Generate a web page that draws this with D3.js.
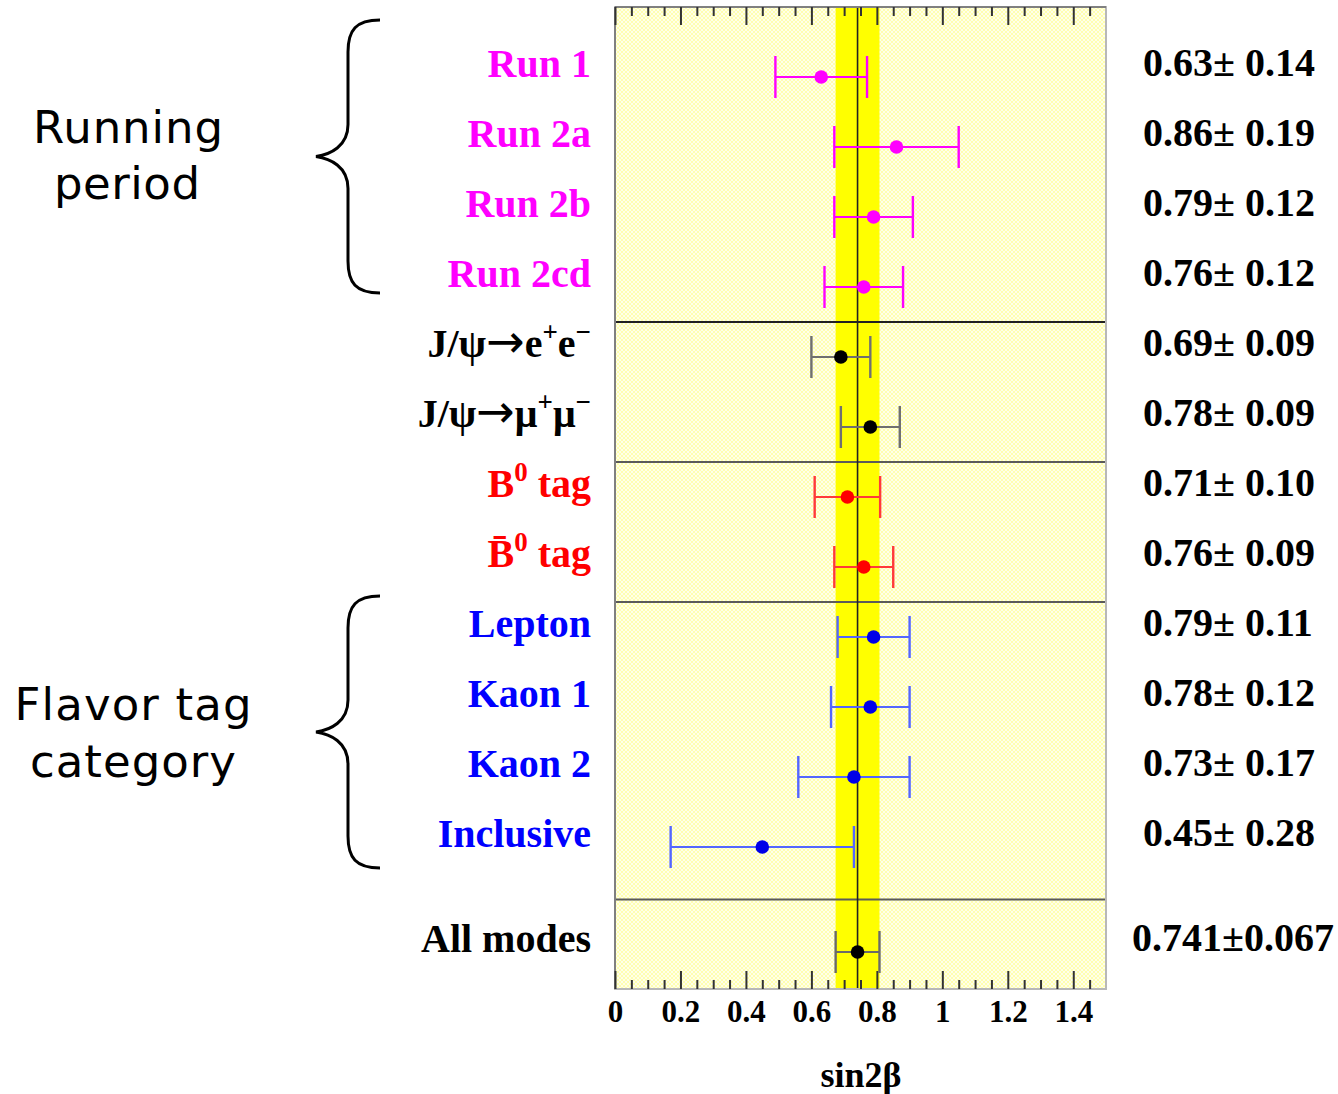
<!DOCTYPE html>
<html>
<head>
<meta charset="utf-8">
<script src="https://cdn.jsdelivr.net/npm/d3@7"></script>
<style>
  body { margin: 0; background: #fff; }
  svg { display: block; }
</style>
</head>
<body>
<div id="chart"></div>
<script>
// sin2beta measurements by sub-sample
var rowLabels = [
    [["Run 1"]],
    [["Run 2a"]],
    [["Run 2b"]],
    [["Run 2cd"]],
    [["J/ψ"], ["→", "arrow"], ["e"], ["+", "sup"], ["e"], ["−", "sup"]],
    [["J/ψ"], ["→", "arrow"], ["μ"], ["+", "sup"], ["μ"], ["−", "sup"]],
    [["B"], ["0", "sup"], [" tag"]],
    [["B\u0304"], ["0", "sup"], [" tag"]],
    [["Lepton"]],
    [["Kaon 1"]],
    [["Kaon 2"]],
    [["Inclusive"]],
    [["All modes"]]
];
var values = [0.63, 0.86, 0.79, 0.76, 0.69, 0.78, 0.71, 0.76, 0.79, 0.78, 0.73, 0.45, 0.741];
var errors = [0.14, 0.19, 0.12, 0.12, 0.09, 0.09, 0.10, 0.09, 0.11, 0.12, 0.17, 0.28, 0.067];
var valueText = ["0.63± 0.14", "0.86± 0.19", "0.79± 0.12", "0.76± 0.12", "0.69± 0.09", "0.78± 0.09",
    "0.71± 0.10", "0.76± 0.09", "0.79± 0.11", "0.78± 0.12", "0.73± 0.17", "0.45± 0.28", "0.741±0.067"];
var groups = ["run", "run", "run", "run", "mode", "mode", "flav", "flav", "tag", "tag", "tag", "tag", "all"];
var rowPos = [0, 1, 2, 3, 4, 5, 6, 7, 8, 9, 10, 11, 12.5];
var separators = [3.5, 5.5, 7.5, 11.75];
var majorTicks = [0, 0.2, 0.4, 0.6, 0.8, 1, 1.2, 1.4];
var average = 0.741, averageErr = 0.067;

var textColor = { run: "#ff00ff", mode: "#000", flav: "#ff0000", tag: "#0000ff", all: "#000" };
var barColor = { run: "#ff00ff", mode: "#707070", flav: "#ff3a3a", tag: "#5466ff", all: "#6a6a6a" };
var dotColor = { run: "#ff00ff", mode: "#000", flav: "#ff0000", tag: "#0000e8", all: "#000" };

var width = 1338, height = 1094;
var serif = "'Liberation Serif', 'Times New Roman', serif";
var sans = "'DejaVu Sans', Verdana, sans-serif";

var svg = d3.select("#chart").append("svg")
    .attr("width", width).attr("height", height);

var x = d3.scaleLinear().domain([0, 1.5]).range([615, 1106]);
var y = d3.scaleLinear().domain([0, 12.5]).range([77, 952]);
var plotTop = 7, plotBottom = 989;

// hatched pale yellow background
var defs = svg.append("defs");
var pat = defs.append("pattern").attr("id", "hatch")
    .attr("width", 4).attr("height", 4).attr("patternUnits", "userSpaceOnUse");
pat.append("rect").attr("width", 4).attr("height", 4).attr("fill", "#ffffb0");
pat.append("path").attr("d", "M0,0 L4,4 M4,0 L0,4")
    .attr("stroke", "#ffffff").attr("stroke-width", 0.9).attr("opacity", 0.8);

svg.append("rect")
    .attr("x", x(0)).attr("y", plotTop)
    .attr("width", x(1.5) - x(0)).attr("height", plotBottom - plotTop)
    .attr("fill", "url(#hatch)");

// average band
svg.append("rect")
    .attr("x", x(average - averageErr)).attr("y", plotTop)
    .attr("width", x(average + averageErr) - x(average - averageErr))
    .attr("height", plotBottom - plotTop)
    .attr("fill", "#ffff00");

// separators
svg.selectAll(".sep")
    .data(separators)
    .enter().append("line")
    .attr("class", "sep")
    .attr("x1", x(0)).attr("x2", x(1.5))
    .attr("y1", function (d) { return y(d); })
    .attr("y2", function (d) { return y(d); })
    .attr("stroke", function (d, i) { return i === 0 ? "#222" : "#5a5a5a"; })
    .attr("stroke-width", 2);

svg.append("line")
    .attr("x1", x(average)).attr("x2", x(average))
    .attr("y1", plotTop).attr("y2", plotBottom)
    .attr("stroke", "#222").attr("stroke-width", 1.6);

// frame
svg.append("rect")
    .attr("x", x(0)).attr("y", plotTop)
    .attr("width", x(1.5) - x(0)).attr("height", plotBottom - plotTop)
    .attr("fill", "none").attr("stroke", "#b8b8b8").attr("stroke-width", 2);
svg.append("line")
    .attr("x1", x(0)).attr("x2", x(0)).attr("y1", plotTop).attr("y2", plotBottom)
    .attr("stroke", "#808080").attr("stroke-width", 2);
svg.append("line")
    .attr("x1", x(0)).attr("x2", x(1.5)).attr("y1", plotTop).attr("y2", plotTop)
    .attr("stroke", "#808080").attr("stroke-width", 2);

// ticks (inward, top and bottom)
var minorTicks = d3.range(0, 1.5, 0.05).filter(function (v) {
    return Math.abs(v / 0.2 - Math.round(v / 0.2)) > 1e-6;
});

function tickAxis(axisFn, y0, vals, len, labels) {
    var g = svg.append("g")
        .attr("transform", "translate(0," + y0 + ")")
        .call(axisFn(x).tickValues(vals).tickSizeInner(-len).tickSizeOuter(0)
            .tickFormat(labels ? d3.format("~g") : ""));
    g.select(".domain").remove();
    g.selectAll(".tick line").attr("stroke", "#333").attr("stroke-width", 2);
    return g;
}
tickAxis(d3.axisBottom, plotBottom, minorTicks, 9, false);
var xAxis = tickAxis(d3.axisBottom, plotBottom, majorTicks, 18, true);
xAxis.selectAll("text")
    .attr("y", 33).attr("dy", null)
    .attr("font-family", serif).attr("font-weight", "bold")
    .attr("font-size", 31).attr("fill", "#000");
tickAxis(d3.axisTop, plotTop, minorTicks, 9, false);
tickAxis(d3.axisTop, plotTop, majorTicks, 18, false);

svg.append("text")
    .attr("x", 861).attr("y", 1087)
    .attr("text-anchor", "middle")
    .attr("font-family", serif).attr("font-weight", "bold").attr("font-size", 36)
    .text("sin2β");

// error bars
var capH = 21;
var pts = svg.append("g").selectAll("g")
    .data(values)
    .enter().append("g");

pts.append("line")
    .attr("x1", function (d, i) { return x(d - errors[i]); })
    .attr("x2", function (d, i) { return x(d + errors[i]); })
    .attr("y1", function (d, i) { return y(rowPos[i]); })
    .attr("y2", function (d, i) { return y(rowPos[i]); })
    .attr("stroke", function (d, i) { return barColor[groups[i]]; })
    .attr("stroke-width", 2);

[-1, 1].forEach(function (s) {
    pts.append("line")
        .attr("x1", function (d, i) { return x(d + s * errors[i]); })
        .attr("x2", function (d, i) { return x(d + s * errors[i]); })
        .attr("y1", function (d, i) { return y(rowPos[i]) - capH; })
        .attr("y2", function (d, i) { return y(rowPos[i]) + capH; })
        .attr("stroke", function (d, i) { return barColor[groups[i]]; })
        .attr("stroke-width", 2.4);
});

pts.append("circle")
    .attr("cx", function (d) { return x(d); })
    .attr("cy", function (d, i) { return y(rowPos[i]); })
    .attr("r", 6.8)
    .attr("fill", function (d, i) { return dotColor[groups[i]]; });

// row labels on the left
var lab = svg.selectAll(".rowlab")
    .data(rowLabels)
    .enter().append("text")
    .attr("class", "rowlab")
    .attr("x", 591)
    .attr("y", function (d, i) { return y(rowPos[i]); })
    .attr("text-anchor", "end")
    .attr("font-family", serif).attr("font-weight", "bold").attr("font-size", 40)
    .attr("fill", function (d, i) { return textColor[groups[i]]; });

lab.each(function (parts) {
    var t = d3.select(this);
    var up = false;
    parts.forEach(function (p) {
        var sp = t.append("tspan").text(p[0]);
        if (p[1] === "sup") {
            sp.attr("dy", up ? 0 : -16).attr("font-size", 27);
            up = true;
        } else {
            if (up) sp.attr("dy", 16);
            up = false;
            if (p[1] === "arrow") {
                sp.attr("font-family", "'DejaVu Sans', sans-serif")
                    .attr("font-weight", "normal").attr("font-size", 46);
            }
        }
    });
});

// values on the right
svg.selectAll(".vallab")
    .data(valueText)
    .enter().append("text")
    .attr("class", "vallab")
    .attr("x", function (d, i) { return i === 12 ? 1132 : 1143; })
    .attr("y", function (d, i) { return y(rowPos[i]) - 1; })
    .attr("font-family", serif).attr("font-weight", "bold").attr("font-size", 40)
    .attr("fill", "#000")
    .text(function (d) { return d; });

// group braces
function brace(t, b) {
    var m = (t + b) / 2, xv = 348, xe = 380, xt = 316;
    return "M" + xe + "," + t +
        " C" + (xv + 8) + "," + t + " " + xv + "," + (t + 10) + " " + xv + "," + (t + 32) +
        " L" + xv + "," + (m - 32) +
        " C" + xv + "," + (m - 10) + " " + (xt + 14) + "," + (m - 2) + " " + xt + "," + m +
        " C" + (xt + 14) + "," + (m + 2) + " " + xv + "," + (m + 10) + " " + xv + "," + (m + 32) +
        " L" + xv + "," + (b - 32) +
        " C" + xv + "," + (b - 10) + " " + (xv + 8) + "," + b + " " + xe + "," + b;
}
svg.append("path").attr("d", brace(20, 293))
    .attr("fill", "none").attr("stroke", "#000").attr("stroke-width", 3);
svg.append("path").attr("d", brace(596, 868))
    .attr("fill", "none").attr("stroke", "#000").attr("stroke-width", 3);

var groupText = [
    { t: "Running", cx: 128, y: 143, w: 190 },
    { t: "period", cx: 127, y: 199, w: 146 },
    { t: "Flavor tag", cx: 133, y: 720, w: 237 },
    { t: "category", cx: 133, y: 777, w: 206 }
];
svg.selectAll(".grp")
    .data(groupText)
    .enter().append("text")
    .attr("class", "grp")
    .attr("x", function (d) { return d.cx - d.w / 2; })
    .attr("y", function (d) { return d.y; })
    .attr("textLength", function (d) { return d.w; })
    .attr("lengthAdjust", "spacing")
    .attr("font-family", sans).attr("font-size", 45)
    .attr("fill", "#000")
    .text(function (d) { return d.t; });
</script>
</body>
</html>
